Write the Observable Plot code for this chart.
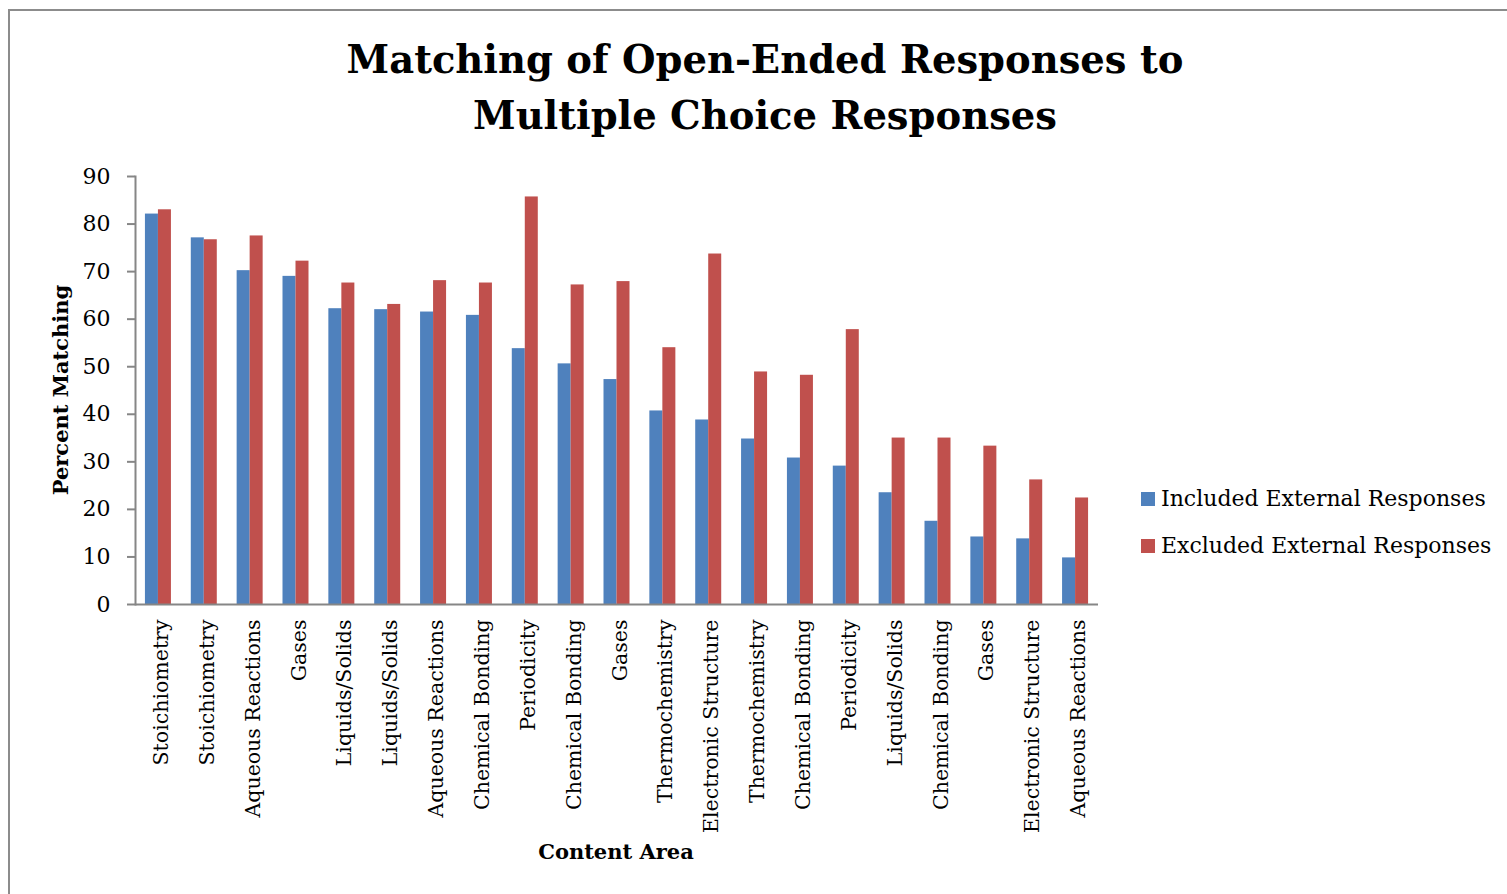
<!DOCTYPE html>
<html>
<head>
<meta charset="utf-8">
<script src="https://cdn.jsdelivr.net/npm/d3@7"></script>
<script src="https://cdn.jsdelivr.net/npm/@observablehq/plot@0.6"></script>
<style>
  html, body { margin: 0; padding: 0; overflow: hidden; background: #fff; }
  #wrap { position: relative; width: 1507px; height: 894px; font-family: "DejaVu Serif", serif; }
  #border { position: absolute; left: 8px; top: 9px; width: 1600px; height: 1000px; border: 2px solid #8c8c8c; box-sizing: border-box; }
  #chart { position: absolute; left: 0; top: 0; }
  #title { position: absolute; left: 265px; width: 1000px; top: 32px; text-align: center; font-weight: bold; font-size: 38.5px; line-height: 56px; color: #000; }
  #ylabel { position: absolute; left: 60px; top: 390px; transform: translate(-50%, -50%) rotate(-90deg); white-space: nowrap; font-weight: bold; font-size: 21px; }
  #xlabel { position: absolute; left: 616px; top: 851px; transform: translate(-50%, -50%); white-space: nowrap; font-weight: bold; font-size: 21px; }
  .leg { position: absolute; left: 1141px; font-size: 22px; white-space: nowrap; display: flex; align-items: center; }
  .sw { width: 14px; height: 14px; margin-right: 6px; display: inline-block; }
</style>
</head>
<body>
<div id="wrap">
  <div id="border"></div>
  <div id="chart"></div>
  <div id="title">Matching of Open-Ended Responses to<br>Multiple Choice Responses</div>
  <div id="ylabel">Percent Matching</div>
  <div id="xlabel">Content Area</div>
  <div class="leg" style="top:486px"><span class="sw" style="background:#4F81BD"></span>Included External Responses</div>
  <div class="leg" style="top:533px"><span class="sw" style="background:#C0504D"></span>Excluded External Responses</div>
</div>
<script>
const categories = ["Stoichiometry", "Stoichiometry", "Aqueous Reactions", "Gases", "Liquids/Solids", "Liquids/Solids", "Aqueous Reactions", "Chemical Bonding", "Periodicity", "Chemical Bonding", "Gases", "Thermochemistry", "Electronic Structure", "Thermochemistry", "Chemical Bonding", "Periodicity", "Liquids/Solids", "Chemical Bonding", "Gases", "Electronic Structure", "Aqueous Reactions"];
const included = [82.1, 77.1, 70.2, 69.0, 62.2, 62.0, 61.5, 60.8, 53.8, 50.6, 47.3, 40.7, 38.8, 34.8, 30.8, 29.1, 23.5, 17.5, 14.2, 13.8, 9.8];
const excluded = [83.0, 76.7, 77.5, 72.2, 67.6, 63.1, 68.1, 67.6, 85.7, 67.2, 67.9, 54.0, 73.7, 48.9, 48.2, 57.8, 35.0, 35.0, 33.3, 26.2, 22.4];
const yTicks = [0, 10, 20, 30, 40, 50, 60, 70, 80, 90];

const rows = categories.map((c, i) => ({i, category: c, included: included[i], excluded: excluded[i]}));
const axisGray = "#868686";

const chart = Plot.plot({
  width: 1507,
  height: 894,
  marginLeft: 135,
  marginRight: 409,
  marginTop: 176,
  marginBottom: 290,
  style: {fontFamily: "DejaVu Serif", fontSize: "21px", color: "#000", background: "transparent", overflow: "visible"},
  x: {type: "band", domain: d3.range(categories.length), paddingInner: 0.433, paddingOuter: 0.2165, round: false, label: null, axis: null},
  y: {domain: [0, 90], label: null, axis: null},
  marks: [
    Plot.barY(rows, {x: "i", y: "included", fill: "#4F81BD", insetRight: 13}),
    Plot.barY(rows, {x: "i", y: "excluded", fill: "#C0504D", insetLeft: 13}),
    Plot.axisY({ticks: yTicks, tickSize: 8, tickPadding: 17, stroke: axisGray, strokeWidth: 2, fill: "#000", label: null, fontSize: 22}),
    Plot.frame({anchor: "left", stroke: axisGray, strokeWidth: 2}),
    Plot.ruleY([0], {stroke: axisGray, strokeWidth: 2}),
    Plot.axisX({tickSize: 0, tickPadding: 15, tickRotate: -90, dx: 3, tickFormat: i => categories[i], fill: "#000", label: null, fontSize: 20.5})
  ]
});
document.getElementById("chart").appendChild(chart);
</script>
</body>
</html>
